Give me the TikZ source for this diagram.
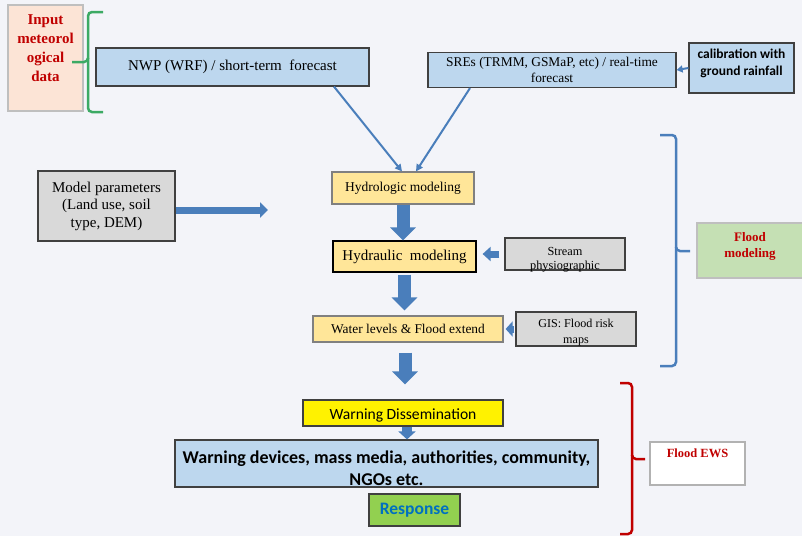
\documentclass[tikz,border=0pt]{standalone}
\usepackage{fontspec}
\setmainfont{Liberation Serif}
\setsansfont{Carlito}
\usetikzlibrary{arrows.meta,positioning}
\definecolor{bgcol}{RGB}{243,244,249}
\definecolor{lblue}{RGB}{189,215,238}
\definecolor{lyellow}{RGB}{255,230,153}
\definecolor{lgray}{RGB}{217,217,217}
\definecolor{peach}{RGB}{252,228,214}
\definecolor{lgreen}{RGB}{197,224,180}
\definecolor{rgreen}{RGB}{146,208,80}
\definecolor{arrblue}{RGB}{74,126,187}
\definecolor{dred}{RGB}{192,0,0}
\definecolor{respblue}{RGB}{0,112,192}
\definecolor{bgreen}{RGB}{60,170,100}

\begin{document}
\begin{tikzpicture}[
  x=1pt,y=-1pt,
  box/.style={draw=black!75,line width=1.2pt,align=center,inner sep=1pt},
  thinarr/.style={draw=arrblue,line width=2pt,-{Triangle[length=7pt,width=7pt]}},
  fatarr/.style={draw=arrblue,line width=13pt,-{Triangle[length=13pt,width=25pt]}},
  smallarr/.style={draw=arrblue,line width=7pt,-{Triangle[length=8pt,width=15pt]}},
  brace/.style={line width=2.5pt,rounded corners=4pt}
]
\fill[bgcol] (0,0) rectangle (802,536);
\useasboundingbox (0,0) rectangle (802,536);

\node[box,draw=black!25,fill=peach,minimum width=75pt,minimum height=106pt,text=dred,text height=72pt,text depth=26pt,font=\bfseries\fontsize{15}{19}\selectfont] (input) at (45.5,58) {Input\\meteorol\\ogical\\data};
\node[box,fill=lblue,minimum width=273pt,minimum height=38pt,font=\fontsize{15}{17}\selectfont] (nwp) at (232.5,67) {NWP (WRF) / short-term\ \ forecast};
\node[box,fill=lblue,minimum width=248pt,minimum height=35pt,font=\fontsize{13.4}{16}\selectfont] (sres) at (552,70) {SREs (TRMM, GSMaP, etc) / real-time\\forecast};
\node[box,fill=lblue,minimum width=105pt,minimum height=50pt,text height=30pt,text depth=16pt,font=\sffamily\bfseries\fontsize{13.5}{16.5}\selectfont] (calib) at (741.5,68) {calibration with\\ground rainfall};

\node[box,draw=black!50,fill=lyellow,minimum width=142pt,minimum height=32pt,font=\fontsize{13.5}{15}\selectfont] (hydro) at (403,188) {Hydrologic modeling};
\node[box,draw=black,fill=lyellow,minimum width=143pt,minimum height=31pt,font=\fontsize{15}{17}\selectfont] (hydra) at (404.5,256.5) {Hydraulic\ \ modeling};
\node[box,fill=lgray,minimum width=120pt,minimum height=32pt,text height=30pt,text depth=0pt,font=\fontsize{12.3}{14}\selectfont] (stream) at (565,254) {Stream\\physiographic};
\node[box,draw=black!50,fill=lyellow,minimum width=190pt,minimum height=26pt,font=\fontsize{13.4}{15}\selectfont] (water) at (408,329) {Water levels \& Flood extend};
\node[box,fill=lgray,minimum width=120pt,minimum height=34pt,text height=30pt,text depth=2pt,font=\fontsize{12.1}{15.5}\selectfont] (gis) at (576,329) {GIS: Flood risk\\maps};
\node[box,fill=lgray,minimum width=137pt,minimum height=70pt,font=\fontsize{15}{17.5}\selectfont] (model) at (106.5,206) {Model parameters\\(Land use, soil\\type, DEM)};
\coordinate (mpend) at (268,210);

\node[box,draw=black!25,fill=lgreen,minimum width=106pt,minimum height=55pt,text=dred,font=\bfseries\fontsize{13}{16}\selectfont] (fmod) at (750,250.5) {Flood\\modeling\\[-4pt]~};

\node[box,fill=yellow,minimum width=200pt,minimum height=26pt,text height=14pt,text depth=1pt,font=\sffamily\fontsize{15.6}{18}\selectfont] (warn) at (403,413) {Warning Dissemination};
\node[box,fill=lblue,minimum width=423pt,minimum height=47pt,text height=44pt,text depth=1pt,font=\sffamily\bfseries\fontsize{18}{21.5}\selectfont] (devices) at (386.5,463.5) {Warning devices, mass media, authorities, community,\\NGOs etc.};
\node[box,fill=rgreen,minimum width=91pt,minimum height=32pt,text=respblue,font=\sffamily\bfseries\fontsize{17.5}{21}\selectfont] (resp) at (414.5,510) {Response};
\node[box,draw=black!30,fill=white,minimum width=95pt,minimum height=43pt,text=dred,font=\bfseries\fontsize{12.5}{15}\selectfont] (ews) at (697.5,463.5) {Flood EWS\\[6pt]~};

\draw[thinarr] ([xshift=101.5pt]nwp.south) -- ([xshift=-1pt]hydro.north);
\draw[thinarr] ([xshift=-82pt]sres.south) -- ([xshift=13pt]hydro.north);
\draw[draw=arrblue,line width=2pt,-{Triangle[length=6pt,width=7pt]}] (calib.west) -- (sres.east);

\draw[smallarr] (model.east |- mpend) -- (mpend);
\draw[fatarr] (hydro.south) -- (hydro.south |- hydra.north);
\draw[fatarr,shorten <=2pt,shorten >=5pt] (hydra.south) -- (hydra.south |- water.north);
\draw[fatarr,shorten <=10pt,shorten >=15pt] ([xshift=-3pt]water.south) -- ([xshift=-3pt]water.south |- warn.north);
\draw[draw=arrblue,line width=10pt,-{Triangle[length=8pt,width=17pt]}] ([xshift=4pt]warn.south) -- ([xshift=4pt]warn.south |- devices.north);
\draw[draw=arrblue,line width=7pt,-{Triangle[length=8pt,width=14pt]},shorten <=5pt,shorten >=6pt] (stream.west) -- (stream.west -| hydra.east);
\draw[draw=arrblue,line width=7pt,-{Triangle[length=7pt,width=15pt]},shorten <=1pt,shorten >=2pt] (gis.west) -- (gis.west -| water.east);

\draw[brace,draw=bgreen] (103,12) -- (88,12) -- (88,62) -- (72,62);
\draw[brace,draw=bgreen] (88,58) -- (88,112) -- (103,112);
\draw[brace,draw=arrblue] (660,135) -- (676,135) -- (676,251) -- (690,251);
\draw[brace,draw=arrblue] (676,247) -- (676,366) -- (660,366);
\draw[brace,draw=dred] (620,383) -- (632,383) -- (632,459) -- (645,459);
\draw[brace,draw=dred] (632,455) -- (632,534) -- (620,534);
\end{tikzpicture}
\end{document}
